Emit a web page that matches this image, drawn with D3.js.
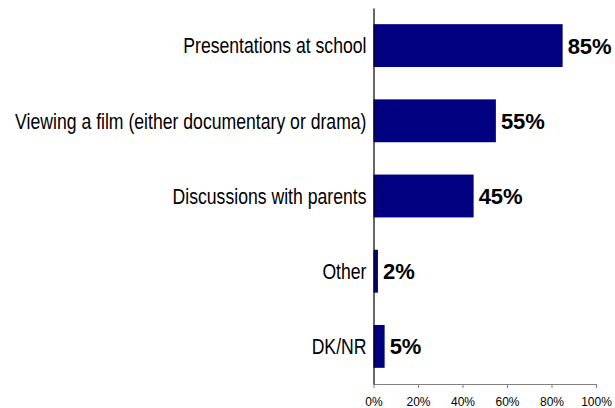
<!DOCTYPE html>
<html>
<head>
<meta charset="utf-8">
<script src="https://cdn.jsdelivr.net/npm/d3@7"></script>
<style>
  html, body { margin: 0; padding: 0; background: #fff; }
  svg { display: block; }
</style>
</head>
<body>
<svg id="chart" width="615" height="408"></svg>
<script>
// Survey responses, in display order (top to bottom)
const categories = [
  "Presentations at school",
  "Viewing a film (either documentary or drama)",
  "Discussions with parents",
  "Other",
  "DK/NR"
];
const percentages = [85, 55, 45, 2, 5];
const tickValues = [0, 20, 40, 60, 80, 100];

const svg = d3.select("#chart");
const plot = { left: 373.5, right: 596, top: 8, bottom: 384 };

const x = d3.scaleLinear().domain([0, 100]).range([plot.left, plot.right]);
const y = d3.scaleBand()
  .domain(categories)
  .range([plot.top, plot.bottom])
  .paddingInner(0.43)
  .paddingOuter(0.215);

const rows = categories.map((c, i) => ({ cat: c, value: percentages[i] }));

// Bars
svg.append("g")
  .selectAll("rect")
  .data(rows)
  .join("rect")
  .attr("x", x(0))
  .attr("y", d => y(d.cat))
  .attr("width", d => x(d.value) - x(0))
  .attr("height", y.bandwidth())
  .attr("fill", "#000080");

// Value labels
svg.append("g")
  .selectAll("text")
  .data(rows)
  .join("text")
  .attr("x", d => x(d.value) + 5)
  .attr("y", d => y(d.cat) + y.bandwidth() / 2)
  .attr("dy", "0.36em")
  .attr("font-family", "Liberation Sans, Arial, sans-serif")
  .attr("font-weight", "bold")
  .attr("font-size", 22)
  .attr("fill", "#000")
  .text(d => d.value + "%");

// Category labels (condensed sans)
svg.append("g")
  .selectAll("text")
  .data(rows)
  .join("text")
  .attr("transform", d => `translate(${plot.left - 7},${y(d.cat) + y.bandwidth() / 2}) scale(0.82,1)`)
  .attr("dy", "0.36em")
  .attr("text-anchor", "end")
  .attr("font-family", "Liberation Sans, Arial, sans-serif")
  .attr("font-size", 21.5)
  .attr("fill", "#000")
  .text(d => d.cat);

// X axis
const xAxis = d3.axisBottom(x)
  .tickValues(tickValues)
  .tickFormat(d => d + "%")
  .tickSizeInner(4)
  .tickSizeOuter(0)
  .tickPadding(9);

const gx = svg.append("g")
  .attr("transform", `translate(0,${plot.bottom})`)
  .call(xAxis);
gx.select(".domain").attr("stroke", "#808080");
gx.selectAll(".tick line").attr("stroke", "#808080");
gx.selectAll(".tick text")
  .attr("font-family", "Liberation Sans, Arial, sans-serif")
  .attr("font-size", 12)
  .attr("fill", "#000");

// Y axis line
const yAxis = d3.axisLeft(y).tickSize(0).tickFormat("");
const gy = svg.append("g")
  .attr("transform", `translate(${plot.left},0)`)
  .call(yAxis);
gy.select(".domain").attr("stroke", "#000").attr("stroke-width", 1.2);
gy.selectAll(".tick").remove();
</script>
</body>
</html>
